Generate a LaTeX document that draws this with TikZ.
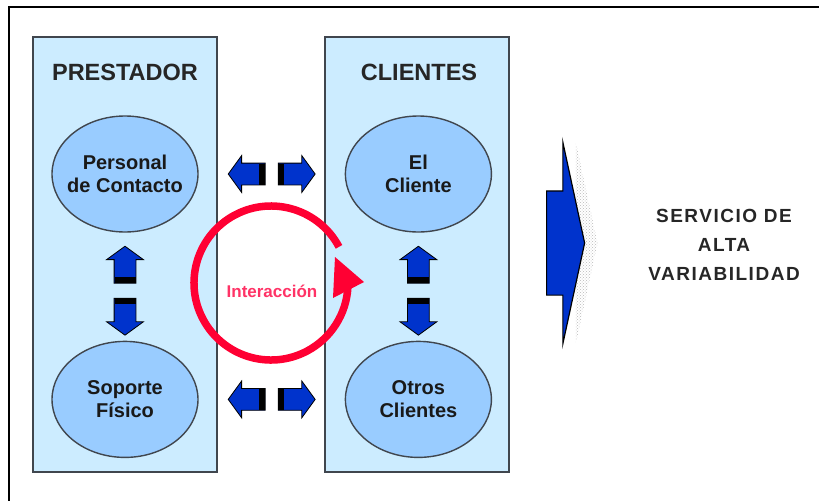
\documentclass[tikz,border=0pt]{standalone}
\usepackage{fontspec}
\setmainfont{Liberation Sans}
\newfontfamily\widesans[LetterSpace=8]{Liberation Sans}
\usetikzlibrary{positioning,calc,shapes.geometric,shapes.arrows,patterns}

\definecolor{panelblue}{RGB}{204,236,255}
\definecolor{ellblue}{RGB}{153,204,255}
\definecolor{edgegray}{RGB}{64,70,78}
\definecolor{arrblue}{RGB}{0,51,204}
\definecolor{ringred}{RGB}{255,0,51}
\definecolor{textred}{RGB}{255,51,102}

\tikzset{
  panel/.style={rectangle, draw=edgegray, line width=2.5pt, fill=panelblue,
    minimum width=184pt, minimum height=435pt},
  paneltitle/.style={font=\bfseries\fontsize{23.5}{27}\selectfont, text=black!85},
  role/.style={ellipse, draw=edgegray, line width=1.4pt, fill=ellblue,
    minimum width=146pt, minimum height=116pt, inner xsep=-8pt, inner ysep=0pt,
    align=center, font=\bfseries\fontsize{20}{23}\selectfont, text=black!90},
  blockarrow/.style={single arrow, draw=black, line width=0.8pt, fill=arrblue,
    minimum height=37pt, inner sep=10.5pt,
    single arrow head extend=7.5pt, single arrow tip angle=108,
    single arrow head indent=0pt},
  bigarrow/.style={single arrow, draw=black, line width=1.2pt, fill=arrblue,
    minimum height=38pt, inner xsep=0pt, inner ysep=51.5pt,
    single arrow head extend=48.5pt, single arrow tip angle=155.6,
    single arrow head indent=0pt},
}

\begin{document}
\begin{tikzpicture}[x=1pt, y=-1pt]
  \useasboundingbox (0,0) rectangle (819,501);

  % frame
  \draw[line width=2pt] (8,7) -- (819,7);
  \draw[line width=1.4pt] (9,7) -- (9,501);

  % the two columns
  \node[panel] (left) at (125,254.5) {};
  \node[panel] (right) at (417,254.5) {};
  \node[paneltitle] (prest) at (125,72) {PRESTADOR};
  \node[paneltitle] (clien) at (419,72) {CLIENTES};

  \node[role] (pc) at (125,174) {Personal\\de Contacto};
  \node[role, below=108pt of pc] (sf) {Soporte\\F\'isico};
  \node[role, right=146pt of pc] (cl) {El\\Cliente};
  \node[role, below=108pt of cl] (oc) {Otros\\Clientes};

  % interaction ring
  \coordinate (ic) at (271,283);
  \node[font=\bfseries\fontsize{17}{20}\selectfont, text=textred] (inter) at (272,291) {Interacci\'on};
  \draw[ringred, line width=7.5pt] (ic) ++(-28:77) arc[start angle=-28, end angle=-357, radius=77];
  \fill[ringred] (335,257) -- (364,282) -- (333,298) -- cycle;

  % block arrows between the roles
  \coordinate (mtop) at ($(pc.east)!0.5!(cl.west)$);
  \coordinate (mbot) at ($(sf.east)!0.5!(oc.west)$);
  \coordinate (mleft) at ($(pc.south)!0.5!(sf.north)+(0,4)$);
  \coordinate (mright) at ($(cl.south)!0.5!(oc.north)+(0,4)$);

  \node[blockarrow, shape border rotate=180] (a1) at ($(mtop)+(-21,0)$) {};
  \node[blockarrow] (a2) at ($(mtop)+(21,0)$) {};
  \node[blockarrow, shape border rotate=180] (a3) at ($(mbot)+(-21,0)$) {};
  \node[blockarrow] (a4) at ($(mbot)+(21,0)$) {};
  \node[blockarrow, shape border rotate=90] (a5) at ($(mleft)+(0,-22)$) {};
  \node[blockarrow, shape border rotate=270] (a6) at ($(mleft)+(0,22)$) {};
  \node[blockarrow, shape border rotate=90] (a7) at ($(mright)+(0,-22)$) {};
  \node[blockarrow, shape border rotate=270] (a8) at ($(mright)+(0,22)$) {};

  % dark end faces
  \foreach \a in {a1,a2,a3,a4,a5,a6,a7,a8} {
    \coordinate (t) at ($(\a.tail)!3.4pt!(\a.tip)$);
    \draw[line width=6pt] ($(t)!10.5pt!90:(\a.tip)$) -- ($(t)!10.5pt!-90:(\a.tip)$);
  }

  % result arrow
  \coordinate (bigc) at (560,243);
  \node[bigarrow, draw=none, fill=none, pattern=crosshatch dots, pattern color=gray!55] (bigsh) at ([xshift=13pt]bigc) {};
  \node[bigarrow] (big) at (bigc) {};

  \node[font=\widesans\bfseries\fontsize{19}{29}\selectfont, align=center, text=black!85] (serv) at (724,245)
    {SERVICIO DE\\ALTA\\VARIABILIDAD};
\end{tikzpicture}
\end{document}
